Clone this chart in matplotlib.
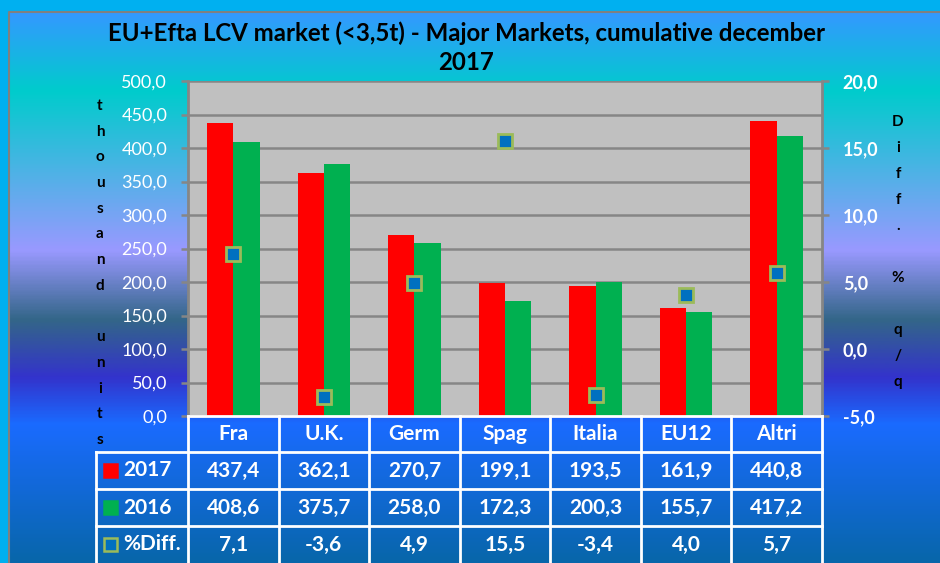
"""EU+Efta LCV market - major markets, cumulative december 2017.
   Bars (2017 vs 2016) + %diff markers, with a data table under the axis."""
import matplotlib
matplotlib.use("Agg")
import matplotlib.pyplot as plt
import numpy as np
from matplotlib.colors import LinearSegmentedColormap
from matplotlib.patches import Rectangle
from matplotlib.ticker import FuncFormatter, MultipleLocator

categories = ["Fra", "U.K.", "Germ", "Spag", "Italia", "EU12", "Altri"]
units_2017 = [437.4, 362.1, 270.7, 199.1, 193.5, 161.9, 440.8]
units_2016 = [408.6, 375.7, 258.0, 172.3, 200.3, 155.7, 417.2]
diff_pct = [7.1, -3.6, 4.9, 15.5, -3.4, 4.0, 5.7]
series_names = ["2017", "2016", "%Diff."]

RED = "#ff0000"
GREEN = "#00b050"
MK_FACE = "#0070c0"
MK_EDGE = "#9bbb59"
GRID = "#868686"
FONT = "Lato"

W, H = 940, 563
plt.rcParams["font.family"] = [FONT, "DejaVu Sans"]


def comma(v, _=None):
    return f"{v:.1f}".replace(".", ",")


def px(x0, y0, x1, y1):
    # pixel box (top-left origin) -> figure fraction rect
    return [x0 / W, 1 - y1 / H, (x1 - x0) / W, (y1 - y0) / H]


fig = plt.figure(figsize=(W / 100, H / 100), dpi=100)
fig.patch.set_facecolor("#00b0f0")

# background gradient of the chart area
bg = fig.add_axes([0, 0, 1, 1])
bg.axis("off")
stops_y = [12, 90, 250, 320, 378, 425, 563]
stops_c = ["#3399ff", "#00cccc", "#9999ff", "#336688", "#3333cc", "#1a6bff", "#0866aa"]
pos = [(y - 12) / (563 - 12) for y in stops_y]
cmap = LinearSegmentedColormap.from_list("bg", list(zip(pos, stops_c)))
grad = np.linspace(0, 1, 400).reshape(-1, 1)
bg.imshow(grad, cmap=cmap, aspect="auto", extent=[9, W, H, 12], interpolation="bilinear")
bg.plot([9, 9, W], [H, 12, 12], color="#808080", lw=1.5)
bg.set_xlim(0, W)
bg.set_ylim(H, 0)

# main plot
ax = fig.add_axes(px(188, 81, 822, 416))
ax.set_facecolor("#c0c0c0")
x = np.arange(len(categories))
bw = 0.29
ax.bar(x - bw / 2, units_2017, bw, color=RED, zorder=2)
ax.bar(x + bw / 2, units_2016, bw, color=GREEN, zorder=2)
ax.set_xlim(-0.5, len(categories) - 0.5)
ax.set_ylim(0, 500)
ax.yaxis.set_major_locator(MultipleLocator(50))
ax.yaxis.set_major_formatter(FuncFormatter(comma))
ax.grid(axis="y", color=GRID, lw=1.8)
ax.set_axisbelow(True)
ax.set_xticks([])
ax.tick_params(axis="y", colors=GRID, labelcolor="white", labelsize=13,
               length=5, width=1.8, pad=10)
for s in ["top", "bottom", "right"]:
    ax.spines[s].set_visible(False)
ax.spines["left"].set_color(GRID)
ax.spines["left"].set_linewidth(2)

ax2 = ax.twinx()
ax2.plot(x, diff_pct, "s", markersize=9.5, markerfacecolor=MK_FACE,
         markeredgecolor=MK_EDGE, markeredgewidth=2, zorder=5)
ax2.set_ylim(-5, 20)
ax2.yaxis.set_major_locator(MultipleLocator(5))
ax2.yaxis.set_major_formatter(FuncFormatter(comma))
ax2.tick_params(axis="y", colors=GRID, labelcolor="white", labelsize=13,
                length=5, width=1.8, pad=10)
for lab in ax2.get_yticklabels():
    lab.set_fontweight("bold")
for s in ["top", "bottom", "left"]:
    ax2.spines[s].set_visible(False)
ax2.spines["right"].set_color(GRID)
ax2.spines["right"].set_linewidth(2)

# overlay: title, axis labels, data table
ov = fig.add_axes([0, 0, 1, 1])
ov.set_xlim(0, W)
ov.set_ylim(H, 0)
ov.axis("off")

ov.text(466, 33, "EU+Efta LCV market (<3,5t) - Major Markets, cumulative december",
        ha="center", va="center", fontsize=17.3, fontweight="bold", color="black")
ov.text(466, 63, "2017", ha="center", va="center", fontsize=17.3,
        fontweight="bold", color="black")

left_lab = list("thousand units")
for i, ch in enumerate(left_lab):
    ov.text(100, 106 + i * 25.7, ch, ha="center", va="center", fontsize=11,
            fontweight="bold", color="black")
right_lab = list("Diff. % q/q")
for i, ch in enumerate(right_lab):
    ov.text(898, 122 + i * 26, ch, ha="center", va="center", fontsize=11,
            fontweight="bold", color="black")

col_edges = np.linspace(188, 822, len(categories) + 1)
row_edges = [416, 452, 489, 526, 563]
lab_x0 = 96
lc = dict(color="white", lw=2, solid_capstyle="projecting")

ov.plot([188, 822], [row_edges[0], row_edges[0]], **lc)
for y in row_edges[1:4]:
    ov.plot([lab_x0, 822], [y, y], **lc)
ov.plot([lab_x0, lab_x0], [row_edges[1], H], **lc)
for xe in col_edges:
    ov.plot([xe, xe], [row_edges[0], H], **lc)

tkw = dict(ha="center", va="center", fontsize=15, fontweight="bold", color="white")
cx = (col_edges[:-1] + col_edges[1:]) / 2
for c, name in zip(cx, categories):
    ov.text(c, (row_edges[0] + row_edges[1]) / 2, name, **tkw)
rows = [units_2017, units_2016, diff_pct]
for r, vals in enumerate(rows):
    yc = (row_edges[r + 1] + row_edges[r + 2]) / 2
    for c, v in zip(cx, vals):
        ov.text(c, yc, comma(v), **tkw)

key_face = [RED, GREEN, MK_FACE]
key_edge = [RED, GREEN, MK_EDGE]
for r, name in enumerate(series_names):
    yc = (row_edges[r + 1] + row_edges[r + 2]) / 2
    ov.add_patch(Rectangle((104, yc - 6.5), 13, 13, facecolor=key_face[r],
                           edgecolor=key_edge[r], lw=1.8))
    ov.text(123, yc, name, ha="left", va="center", fontsize=15,
            fontweight="bold", color="white")

fig.savefig("out.png", dpi=100, facecolor=fig.get_facecolor())
